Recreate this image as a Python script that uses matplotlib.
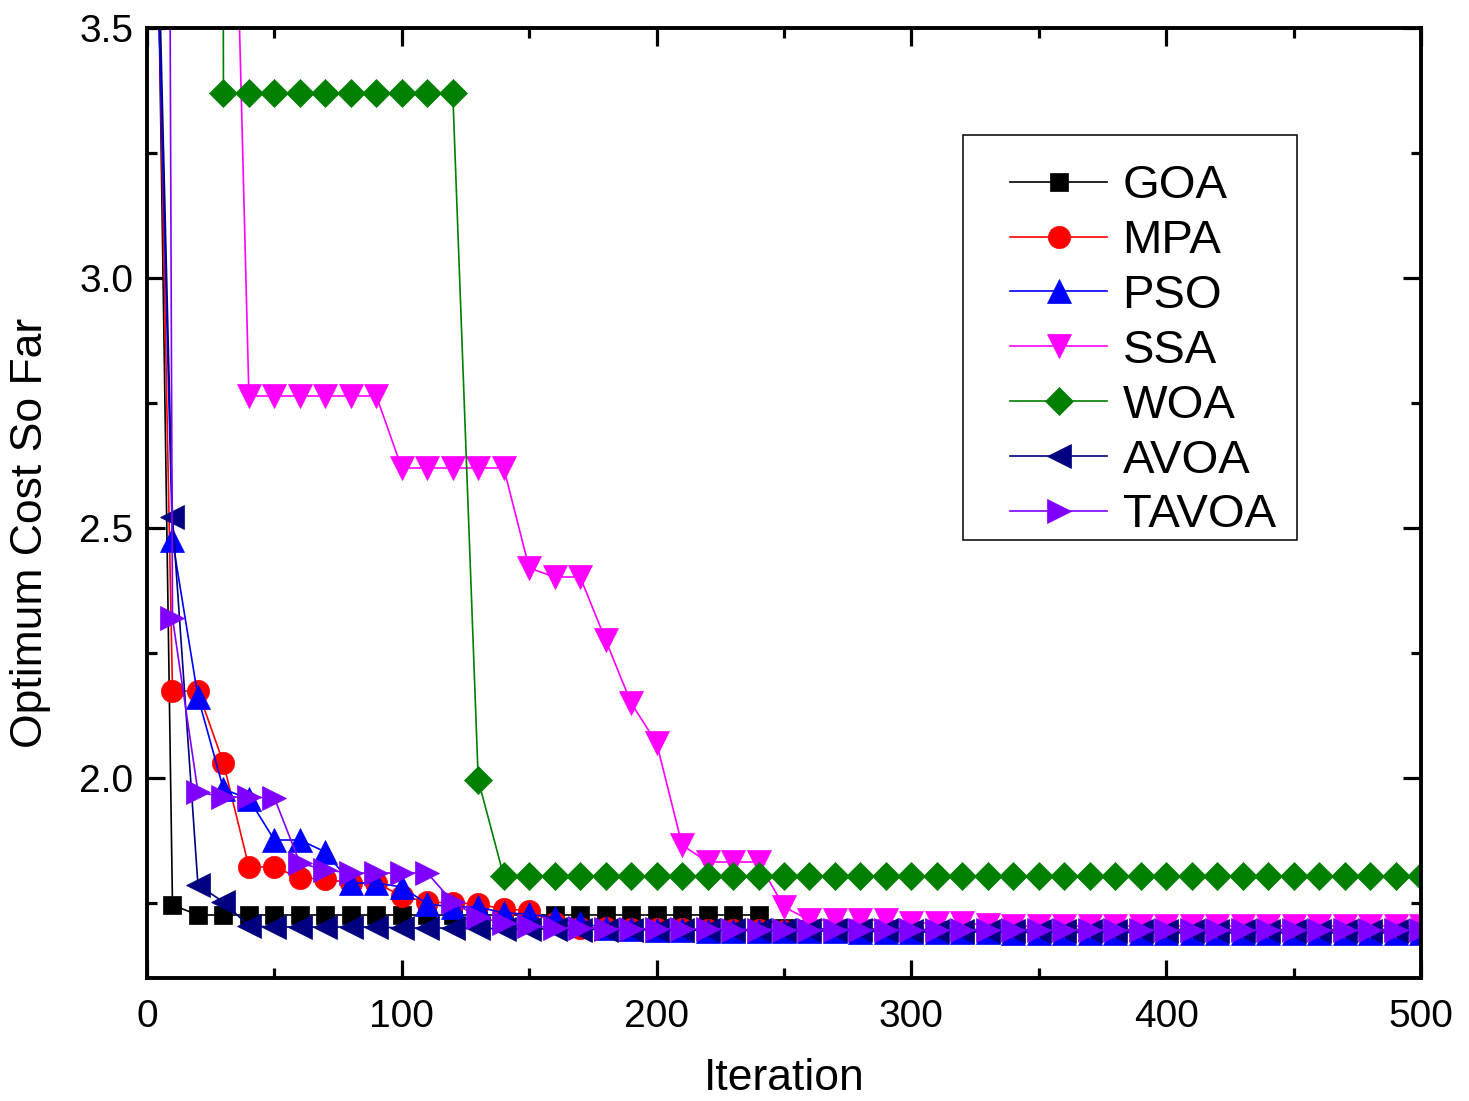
import numpy as np
import matplotlib
matplotlib.use('Agg')
import matplotlib.pyplot as plt
from matplotlib.lines import Line2D
from matplotlib.legend_handler import HandlerLine2D
from matplotlib.patches import Rectangle
from matplotlib.ticker import MultipleLocator

plt.rcParams['font.family'] = ['Liberation Sans', 'DejaVu Sans']

# iteration at which each value was logged (first point, then every 10th)
iters = [1, 10, 20, 30, 40, 50, 60, 70, 80, 90,
         100, 110, 120, 130, 140, 150, 160, 170, 180, 190,
         200, 210, 220, 230, 240, 250, 260, 270, 280, 290,
         300, 310, 320, 330, 340, 350, 360, 370, 380, 390,
         400, 410, 420, 430, 440, 450, 460, 470, 480, 490, 500]

goa = [4.80, 1.746, 1.726, 1.726, 1.726, 1.726, 1.726, 1.726, 1.726, 1.726,
       1.726, 1.726, 1.726, 1.726, 1.726, 1.726, 1.726, 1.726, 1.726, 1.726,
       1.726, 1.726, 1.726, 1.726, 1.726, 1.700, 1.698, 1.698, 1.698, 1.698,
       1.697, 1.697, 1.697, 1.697, 1.697, 1.697, 1.697, 1.697, 1.697, 1.697,
       1.697, 1.697, 1.697, 1.697, 1.697, 1.697, 1.697, 1.697, 1.697, 1.697, 1.697]

mpa = [4.50, 2.174, 2.174, 2.030, 1.822, 1.822, 1.800, 1.798, 1.790, 1.790,
       1.764, 1.752, 1.750, 1.748, 1.738, 1.735, 1.710, 1.700, 1.700, 1.698,
       1.698, 1.698, 1.696, 1.696, 1.696, 1.694, 1.694, 1.694, 1.694, 1.694,
       1.693, 1.693, 1.693, 1.693, 1.693, 1.693, 1.692, 1.692, 1.692, 1.692,
       1.692, 1.692, 1.692, 1.692, 1.692, 1.692, 1.692, 1.692, 1.692, 1.692, 1.692]

pso = [4.25, 2.476, 2.162, 1.978, 1.958, 1.876, 1.876, 1.852, 1.790, 1.790,
       1.782, 1.748, 1.742, 1.742, 1.730, 1.728, 1.720, 1.710, 1.700, 1.698,
       1.696, 1.696, 1.695, 1.695, 1.695, 1.694, 1.694, 1.694, 1.693, 1.693,
       1.692, 1.692, 1.692, 1.692, 1.691, 1.691, 1.691, 1.691, 1.691, 1.691,
       1.690, 1.690, 1.690, 1.690, 1.690, 1.690, 1.690, 1.690, 1.690, 1.690, 1.690]

ssa = [9.00, 7.50, 6.00, 4.76, 2.764, 2.764, 2.764, 2.764, 2.764, 2.764,
       2.620, 2.620, 2.620, 2.620, 2.620, 2.420, 2.402, 2.402, 2.276, 2.150,
       2.070, 1.866, 1.832, 1.832, 1.832, 1.742, 1.716, 1.716, 1.716, 1.716,
       1.710, 1.710, 1.710, 1.706, 1.704, 1.704, 1.704, 1.704, 1.704, 1.704,
       1.704, 1.704, 1.704, 1.704, 1.704, 1.704, 1.704, 1.704, 1.704, 1.704, 1.704]

woa = [40.0, 35.0, 30.0, 3.370, 3.370, 3.370, 3.370, 3.370, 3.370, 3.370,
       3.370, 3.370, 3.370, 1.996, 1.804, 1.804, 1.804, 1.804, 1.804, 1.804,
       1.804, 1.804, 1.804, 1.804, 1.804, 1.804, 1.804, 1.804, 1.804, 1.804,
       1.804, 1.804, 1.804, 1.804, 1.804, 1.804, 1.804, 1.804, 1.804, 1.804,
       1.804, 1.804, 1.804, 1.804, 1.804, 1.804, 1.804, 1.804, 1.804, 1.804, 1.804]

avoa = [4.40, 2.522, 1.786, 1.752, 1.704, 1.702, 1.702, 1.702, 1.702, 1.702,
        1.700, 1.700, 1.700, 1.700, 1.698, 1.698, 1.698, 1.697, 1.697, 1.697,
        1.696, 1.696, 1.696, 1.696, 1.696, 1.696, 1.696, 1.696, 1.696, 1.696,
        1.695, 1.695, 1.695, 1.695, 1.695, 1.695, 1.695, 1.695, 1.695, 1.695,
        1.695, 1.695, 1.695, 1.695, 1.695, 1.695, 1.695, 1.695, 1.695, 1.695, 1.695]

tavoa = [14.0, 2.320, 1.972, 1.962, 1.962, 1.960, 1.830, 1.816, 1.810, 1.810,
         1.810, 1.810, 1.752, 1.722, 1.710, 1.705, 1.700, 1.700, 1.699, 1.699,
         1.698, 1.698, 1.698, 1.697, 1.697, 1.697, 1.697, 1.697, 1.697, 1.697,
         1.696, 1.696, 1.696, 1.696, 1.696, 1.696, 1.696, 1.696, 1.696, 1.696,
         1.696, 1.696, 1.696, 1.696, 1.696, 1.696, 1.696, 1.696, 1.696, 1.696, 1.696]

names = ['GOA', 'MPA', 'PSO', 'SSA', 'WOA', 'AVOA', 'TAVOA']
series = [goa, mpa, pso, ssa, woa, avoa, tavoa]
colors = ['black', '#ff0000', '#0000ff', '#ff00ff', '#008000', '#000080', '#8000ff']
markers = ['s', 'o', '^', 'v', 'D', '<', '>']
msizes = [13.5, 16, 17.5, 17.5, 14.3, 17.5, 17.5]

fig = plt.figure(figsize=(14.69, 11.01), dpi=100)
ax = fig.add_axes([147 / 1469, 123 / 1101, 1274 / 1469, 950 / 1101])

handles = []
for name, vals, c, m, s in zip(names, series, colors, markers, msizes):
    ax.plot(iters, vals, color=c, lw=1.2, marker=m, ms=s, mec=c, mew=0.5,
            markevery=list(range(1, len(iters))))
    handles.append(Line2D([0], [0], color=c, lw=1.2, marker=m, ms=s,
                          mec=c, mew=0.5))

ax.set_xlim(0, 500)
ax.set_ylim(1.6, 3.5)
ax.xaxis.set_major_locator(MultipleLocator(100))
ax.xaxis.set_minor_locator(MultipleLocator(50))
ax.yaxis.set_minor_locator(MultipleLocator(0.25))
ax.set_yticks([2.0, 2.5, 3.0, 3.5])
ax.set_yticklabels(['2.0', '2.5', '3.0', '3.5'])

ax.tick_params(which='both', direction='in', top=True, right=True,
               width=2.3, labelsize=28)
ax.tick_params(which='major', length=13)
ax.tick_params(which='minor', length=7)
ax.tick_params(axis='x', which='major', pad=15)
ax.tick_params(axis='y', which='major', pad=10)
for sp in ax.spines.values():
    sp.set_linewidth(2.8)

ax.set_xlabel('Iteration', fontsize=32, labelpad=17)
ax.set_ylabel('Optimum Cost So Far', fontsize=32)
ax.yaxis.set_label_coords(-0.0755, 0.468)

# legend box drawn separately so the entries can sit where the original has them
ax.add_patch(Rectangle((0.6405, 0.4611), 0.2622, 0.4263, transform=ax.transAxes,
                       fill=False, edgecolor='black', lw=1.1, zorder=5))
leg = ax.legend(handles, names, loc='upper left',
                bbox_to_anchor=(0.6405, 0.8789), borderaxespad=0,
                fontsize=34, frameon=False, numpoints=1,
                handlelength=2.61, handletextpad=0.32, labelspacing=0.23,
                borderpad=0.45,
                handler_map={Line2D: HandlerLine2D(xpad=0.54)})

fig.savefig('out.png', dpi=100)
